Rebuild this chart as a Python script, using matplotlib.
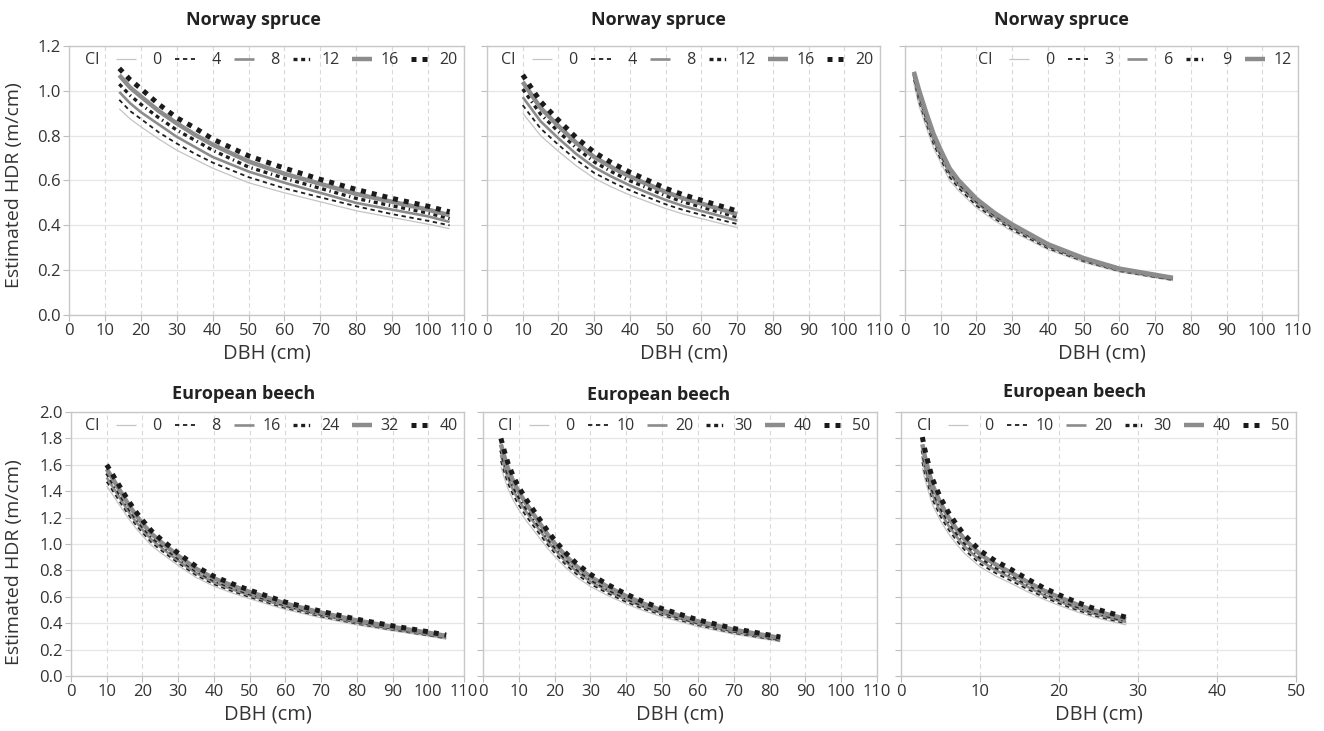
import numpy as np
import matplotlib
matplotlib.use("Agg")
import matplotlib.pyplot as plt

plt.rcParams['font.family'] = ['Open Sans', 'DejaVu Sans']

# ---- data ----
# Norway spruce, panel 1
ns1_ci = [0, 4, 8, 12, 16, 20]
ns1_dbh = [14, 17, 20, 25, 30, 35, 40, 50, 60, 70, 80, 90, 100, 106]
ns1_hdr = [
    [0.92, 0.875, 0.84, 0.785, 0.735, 0.695, 0.655, 0.59, 0.545, 0.505, 0.465, 0.435, 0.405, 0.385],
    [0.96, 0.91, 0.875, 0.815, 0.765, 0.72, 0.68, 0.615, 0.565, 0.525, 0.485, 0.45, 0.42, 0.40],
    [0.995, 0.945, 0.905, 0.85, 0.795, 0.75, 0.705, 0.64, 0.59, 0.545, 0.50, 0.47, 0.44, 0.415],
    [1.03, 0.98, 0.94, 0.88, 0.825, 0.78, 0.735, 0.66, 0.61, 0.565, 0.52, 0.487, 0.455, 0.43],
    [1.07, 1.015, 0.975, 0.91, 0.855, 0.805, 0.76, 0.685, 0.63, 0.585, 0.54, 0.505, 0.47, 0.445],
    [1.10, 1.05, 1.01, 0.94, 0.88, 0.835, 0.785, 0.71, 0.655, 0.605, 0.56, 0.52, 0.485, 0.46],
]

# Norway spruce, panel 2
ns2_ci = [0, 4, 8, 12, 16, 20]
ns2_dbh = [10, 12, 15, 20, 25, 30, 35, 40, 45, 50, 55, 60, 65, 70]
ns2_hdr = [
    [0.90, 0.86, 0.80, 0.73, 0.665, 0.61, 0.57, 0.535, 0.505, 0.475, 0.45, 0.43, 0.41, 0.39],
    [0.936, 0.894, 0.832, 0.759, 0.692, 0.634, 0.593, 0.556, 0.525, 0.494, 0.468, 0.447, 0.426, 0.406],
    [0.972, 0.929, 0.864, 0.788, 0.718, 0.659, 0.616, 0.578, 0.545, 0.513, 0.486, 0.464, 0.443, 0.421],
    [1.008, 0.963, 0.896, 0.818, 0.745, 0.683, 0.638, 0.599, 0.566, 0.532, 0.504, 0.482, 0.459, 0.437],
    [1.040, 0.993, 0.924, 0.843, 0.768, 0.705, 0.658, 0.618, 0.583, 0.549, 0.520, 0.497, 0.474, 0.450],
    [1.071, 1.023, 0.952, 0.869, 0.791, 0.726, 0.678, 0.637, 0.601, 0.565, 0.536, 0.512, 0.488, 0.464],
]

# Norway spruce, panel 3
ns3_ci = [0, 3, 6, 9, 12]
ns3_dbh = [2.5, 4, 6, 8, 10, 12.5, 15, 20, 25, 30, 40, 50, 60, 75]
ns3_hdr = [
    [1.03, 0.93, 0.835, 0.745, 0.68, 0.60, 0.555, 0.478, 0.422, 0.373, 0.292, 0.235, 0.192, 0.153],
    [1.05, 0.95, 0.853, 0.763, 0.695, 0.615, 0.567, 0.488, 0.431, 0.381, 0.298, 0.240, 0.196, 0.156],
    [1.065, 0.967, 0.87, 0.78, 0.71, 0.63, 0.58, 0.50, 0.44, 0.39, 0.305, 0.245, 0.20, 0.16],
    [1.075, 0.985, 0.885, 0.795, 0.724, 0.643, 0.591, 0.51, 0.449, 0.398, 0.311, 0.250, 0.204, 0.163],
    [1.085, 1.0, 0.9, 0.808, 0.736, 0.654, 0.601, 0.518, 0.456, 0.404, 0.316, 0.254, 0.207, 0.166],
]

# European beech, panel 4
eb1_ci = [0, 8, 16, 24, 32, 40]
eb1_dbh = [10, 12, 14, 16, 18, 20, 22.5, 25, 30, 35, 40, 45, 50, 60, 70, 80, 90, 100, 105]
eb1_hdr = [
    [1.44, 1.359, 1.278, 1.197, 1.125, 1.062, 0.990, 0.936, 0.837, 0.747, 0.680, 0.630, 0.585, 0.504, 0.441, 0.387, 0.342, 0.302, 0.279],
    [1.472, 1.389, 1.306, 1.224, 1.150, 1.086, 1.012, 0.957, 0.856, 0.764, 0.695, 0.644, 0.598, 0.515, 0.451, 0.396, 0.350, 0.308, 0.285],
    [1.504, 1.419, 1.335, 1.250, 1.175, 1.109, 1.034, 0.978, 0.874, 0.780, 0.710, 0.658, 0.611, 0.526, 0.461, 0.404, 0.357, 0.315, 0.291],
    [1.536, 1.450, 1.363, 1.277, 1.200, 1.133, 1.056, 0.998, 0.893, 0.797, 0.725, 0.672, 0.624, 0.538, 0.470, 0.413, 0.365, 0.322, 0.298],
    [1.568, 1.480, 1.392, 1.303, 1.225, 1.156, 1.078, 1.019, 0.911, 0.813, 0.740, 0.686, 0.637, 0.549, 0.480, 0.421, 0.372, 0.328, 0.304],
    [1.60, 1.51, 1.42, 1.33, 1.25, 1.18, 1.10, 1.04, 0.93, 0.83, 0.755, 0.70, 0.65, 0.56, 0.49, 0.43, 0.38, 0.335, 0.31],
]

# European beech, panel 5
eb2_ci = [0, 10, 20, 30, 40, 50]
eb2_dbh = [5, 6, 7, 8.5, 10, 12, 14, 16, 18, 20, 23, 26, 30, 35, 40, 45, 50, 60, 70, 83]
eb2_hdr = [
    [1.584, 1.496, 1.417, 1.329, 1.258, 1.179, 1.109, 1.038, 0.968, 0.906, 0.823, 0.752, 0.678, 0.607, 0.546, 0.493, 0.449, 0.374, 0.317, 0.260],
    [1.629, 1.539, 1.457, 1.367, 1.294, 1.213, 1.140, 1.068, 0.996, 0.932, 0.846, 0.774, 0.697, 0.624, 0.561, 0.507, 0.462, 0.385, 0.326, 0.267],
    [1.674, 1.581, 1.497, 1.404, 1.330, 1.246, 1.172, 1.097, 1.023, 0.958, 0.870, 0.795, 0.716, 0.642, 0.577, 0.521, 0.474, 0.395, 0.335, 0.274],
    [1.710, 1.615, 1.530, 1.435, 1.359, 1.273, 1.197, 1.121, 1.045, 0.979, 0.888, 0.812, 0.732, 0.656, 0.589, 0.532, 0.485, 0.404, 0.342, 0.280],
    [1.755, 1.658, 1.570, 1.472, 1.394, 1.307, 1.229, 1.151, 1.073, 1.004, 0.912, 0.834, 0.751, 0.673, 0.605, 0.546, 0.497, 0.414, 0.351, 0.288],
    [1.80, 1.70, 1.61, 1.51, 1.43, 1.34, 1.26, 1.18, 1.10, 1.03, 0.935, 0.855, 0.77, 0.69, 0.62, 0.56, 0.51, 0.425, 0.36, 0.295],
]

# European beech, panel 6
eb3_ci = [0, 10, 20, 30, 40, 50]
eb3_dbh = [2.7, 3, 3.5, 4, 5, 6, 7, 8, 10, 12, 14, 16, 18, 20, 22, 24, 26, 28.5]
eb3_hdr = [
    [1.575, 1.496, 1.392, 1.296, 1.175, 1.079, 1.001, 0.931, 0.827, 0.757, 0.700, 0.639, 0.583, 0.535, 0.492, 0.452, 0.422, 0.387],
    [1.620, 1.539, 1.432, 1.334, 1.208, 1.110, 1.029, 0.958, 0.850, 0.779, 0.720, 0.658, 0.600, 0.550, 0.506, 0.465, 0.434, 0.398],
    [1.665, 1.582, 1.472, 1.371, 1.242, 1.141, 1.058, 0.984, 0.874, 0.800, 0.741, 0.676, 0.616, 0.566, 0.520, 0.478, 0.446, 0.409],
    [1.710, 1.625, 1.512, 1.408, 1.276, 1.172, 1.087, 1.011, 0.898, 0.822, 0.761, 0.695, 0.633, 0.581, 0.534, 0.491, 0.458, 0.420],
    [1.756, 1.668, 1.552, 1.445, 1.310, 1.203, 1.116, 1.038, 0.922, 0.844, 0.781, 0.713, 0.650, 0.597, 0.548, 0.504, 0.470, 0.432],
    [1.81, 1.72, 1.60, 1.49, 1.35, 1.24, 1.15, 1.07, 0.95, 0.87, 0.805, 0.735, 0.67, 0.615, 0.565, 0.52, 0.485, 0.445],
]

# line styles by CI order
styles = [
    dict(color='#c4c4c4', lw=0.9, ls='-'),
    dict(color='#1e1e1e', lw=1.3, ls=(0, (2.4, 2.0))),
    dict(color='#8c8c8c', lw=1.9, ls='-'),
    dict(color='#1e1e1e', lw=2.4, ls=(0, (1.2, 1.1, 1.2, 1.1, 0.4, 1.1))),
    dict(color='#8c8c8c', lw=3.2, ls='-'),
    dict(color='#1a1a1a', lw=3.6, ls=(0, (1.0, 1.2))),
]

TXT = '#333333'
fig = plt.figure(figsize=(13.24, 7.31), dpi=100)

W, H = 1324, 731
def box(x0, x1, ytop, ybot):
    return [x0 / W, 1 - ybot / H, (x1 - x0) / W, (ybot - ytop) / H]

panels = [
    (box(69, 464, 46, 315), ns1_dbh, ns1_ci, ns1_hdr, 1.2, 110, "Norway spruce", 0.466, 1.097, True),
    (box(487, 880, 46, 315), ns2_dbh, ns2_ci, ns2_hdr, 1.2, 110, "Norway spruce", 0.436, 1.097, False),
    (box(905, 1298, 46, 315), ns3_dbh, ns3_ci, ns3_hdr, 1.2, 110, "Norway spruce", 0.398, 1.097, False),
    (box(71, 464, 412, 676), eb1_dbh, eb1_ci, eb1_hdr, 2.0, 110, "European beech", 0.438, 1.068, True),
    (box(483, 877, 412, 676), eb2_dbh, eb2_ci, eb2_hdr, 2.0, 110, "European beech", 0.445, 1.065, False),
    (box(901, 1296, 412, 676), eb3_dbh, eb3_ci, eb3_hdr, 2.0, 50, "European beech", 0.44, 1.076, False),
]

FS = 11.5
axes, legs = [], []
for pos, dbh, ci, hdr, ymax, xmax, title, tx, ty, ylab in panels:
    ax = fig.add_axes(pos)
    for k, (c, y) in enumerate(zip(ci, hdr)):
        lab = str(c) if c >= 10 else "\u2007" + str(c)
        ax.plot(dbh, y, label=lab, solid_capstyle='butt', dash_capstyle='butt',
                zorder=2 + k, **styles[k])
    ax.set_xlim(0, xmax)
    ax.set_ylim(0, ymax)
    ax.set_xticks(np.arange(0, xmax + 1, 10))
    ax.set_yticks(np.arange(0, ymax + 0.01, 0.2))
    ax.yaxis.set_major_formatter(matplotlib.ticker.FormatStrFormatter('%.1f'))
    if not ylab:
        ax.set_yticklabels([])
    ax.grid(axis='y', color='#e6e6e6', lw=0.9)
    ax.grid(axis='x', color='#d9d9d9', lw=0.8, ls=(0, (4, 3)))
    ax.set_axisbelow(True)
    for s in ax.spines.values():
        s.set_color('#c8c8c8')
        s.set_linewidth(1.0)
    ax.tick_params(direction='out', length=4, width=0.8, color='#bdbdbd',
                   labelsize=12, labelcolor=TXT, pad=2)
    ax.set_xlabel("DBH (cm)", fontsize=14.5, color=TXT, labelpad=3)
    ax.text(tx, ty, title, transform=ax.transAxes, ha='center', va='center',
            fontsize=13, fontweight='bold', color='#222222')
    leg = ax.legend(loc='upper right', bbox_to_anchor=(1.0, 1.0), ncol=len(ci),
                    frameon=False, fontsize=FS, handlelength=1.3, handletextpad=0.5,
                    columnspacing=0.75, borderaxespad=0.1, borderpad=0.3, labelcolor=TXT)
    axes.append(ax)
    legs.append(leg)

fig.text(14 / W, 1 - 185 / H, "Estimated HDR (m/cm)", rotation=90, ha='center', va='center',
         fontsize=14, color=TXT)
fig.text(14 / W, 1 - 562 / H, "Estimated HDR (m/cm)", rotation=90, ha='center', va='center',
         fontsize=14, color=TXT)

# "CI" in front of each legend row
fig.canvas.draw()
rend = fig.canvas.get_renderer()
inv = fig.transFigure.inverted()
for ax, leg in zip(axes, legs):
    h0 = leg.legend_handles[0].get_window_extent(rend)
    t0 = leg.get_texts()[0].get_window_extent(rend)
    x, y = inv.transform((h0.x0 - 16, (t0.y0 + t0.y1) / 2))
    fig.text(x, y, "CI", ha='right', va='center', fontsize=FS, color=TXT)

fig.savefig("out.png", dpi=100)
